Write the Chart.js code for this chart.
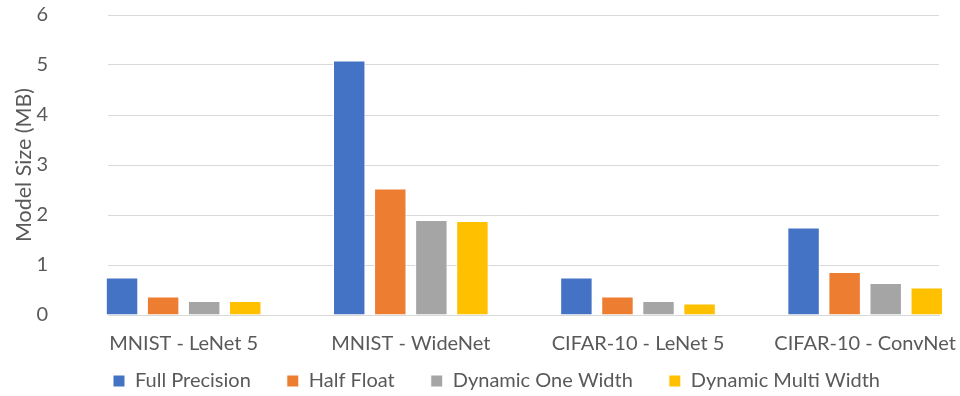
<!DOCTYPE html>
<html>
<head>
<meta charset="utf-8">
<script src="https://cdn.jsdelivr.net/npm/chart.js@4/dist/chart.umd.min.js"></script>
<style>
  html, body { margin: 0; padding: 0; background: #ffffff; }
  #wrap { width: 960px; height: 396px; }
</style>
</head>
<body>
<div id="wrap"><canvas id="c" width="960" height="396"></canvas></div>
<script>
// Model size per network, in MB
const categories = ['MNIST - LeNet 5', 'MNIST - WideNet', 'CIFAR-10 - LeNet 5', 'CIFAR-10 - ConvNet'];
const seriesNames = ['Full Precision', 'Half Float', 'Dynamic One Width', 'Dynamic Multi Width'];
const fullPrecision = [0.75, 5.09, 0.75, 1.75];
const halfFloat = [0.37, 2.53, 0.37, 0.86];
const dynamicOneWidth = [0.28, 1.90, 0.28, 0.64];
const dynamicMultiWidth = [0.28, 1.88, 0.23, 0.55];
const yTicks = [0, 1, 2, 3, 4, 5, 6];

const colors = ['#4472C4', '#ED7D31', '#A5A5A5', '#FFC000'];
const seriesValues = [fullPrecision, halfFloat, dynamicOneWidth, dynamicMultiWidth];
const textColor = '#595959';
const fontFamily = 'Lato, "Open Sans", "Liberation Sans", sans-serif';

const datasets = seriesValues.map((vals, s) => ({
  label: seriesNames[s],
  data: vals.map((v, i) => ({ x: i, y: v })),
  backgroundColor: colors[s],
  borderColor: '#ffffff',
  borderWidth: 1,
  categoryPercentage: 0.723,
  barPercentage: 0.79,
  clip: false
}));

// Legend: compact box in the layout, row nudged up and to the right afterwards
const legendLayout = {
  id: 'legendLayout',
  beforeLayout(chart) {
    const lg = chart.legend;
    if (lg && !lg._fixedFit) {
      const fit = lg.fit;
      lg.fit = function () { fit.call(this); this.height = 36; };
      lg._fixedFit = true;
    }
  },
  afterLayout(chart) {
    const lg = chart.legend;
    if (lg) {
      lg.left += 27;
      lg.right += 27;
      lg.top = lg.bottom - 61;
      lg.height = 61;
    }
  }
};

new Chart(document.getElementById('c'), {
  type: 'bar',
  data: { datasets },
  plugins: [legendLayout],
  options: {
    responsive: false,
    devicePixelRatio: 1,
    animation: false,
    layout: { padding: { top: 15, right: 21, left: 0, bottom: 0 } },
    plugins: {
      legend: {
        position: 'bottom',
        labels: {
          color: textColor,
          font: { family: fontFamily, size: 20 },
          boxWidth: 12,
          boxHeight: 12,
          padding: 36
        }
      },
      tooltip: { enabled: false }
    },
    scales: {
      x: {
        type: 'linear',
        min: -0.333,
        max: 3.325,
        offset: false,
        grid: { display: false },
        border: { display: true, color: '#D9D9D9', width: 1 },
        afterBuildTicks: (axis) => { axis.ticks = categories.map((_, i) => ({ value: i })); },
        afterFit: (scale) => {
          scale.height = 45;
          scale.paddingLeft = 0;
          scale.paddingRight = 0;
        },
        ticks: {
          color: textColor,
          font: { family: fontFamily, size: 20 },
          padding: 9,
          maxRotation: 0,
          autoSkip: false,
          callback: (v) => categories[v]
        }
      },
      y: {
        min: 0,
        max: 6,
        afterBuildTicks: (axis) => { axis.ticks = yTicks.map(v => ({ value: v })); },
        afterFit: (scale) => {
          scale.width = 108;
          scale.paddingTop = 10;
          scale.paddingBottom = 10;
        },
        grid: { color: '#D9D9D9', lineWidth: 1, drawTicks: false },
        border: { display: false },
        ticks: {
          color: textColor,
          font: { family: fontFamily, size: 20 },
          padding: 60
        },
        title: {
          display: true,
          text: 'Model Size (MB)',
          color: textColor,
          font: { family: fontFamily, size: 21.5 },
          padding: { top: 11, bottom: 0 }
        }
      }
    }
  }
});
</script>
</body>
</html>
